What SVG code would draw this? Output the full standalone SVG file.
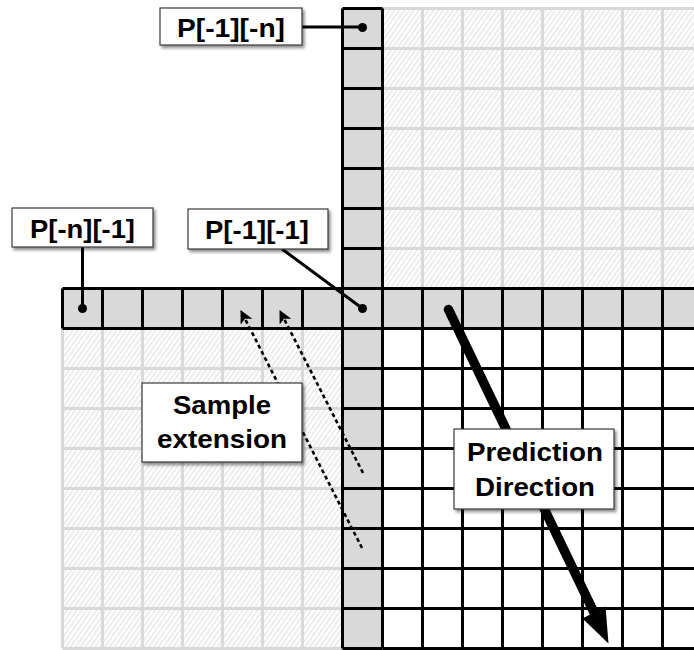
<svg xmlns="http://www.w3.org/2000/svg" width="694" height="650" viewBox="0 0 694 650">
<defs>
<pattern id="hatch" width="4" height="4" patternUnits="userSpaceOnUse" patternTransform="rotate(35)">
<rect width="4" height="4" fill="#ffffff"/>
<line x1="1" y1="0" x2="1" y2="4" stroke="#dcdcdc" stroke-width="1"/>
</pattern>
<filter id="shadow" x="-10%" y="-10%" width="130%" height="140%">
<feDropShadow dx="2" dy="2.5" stdDeviation="1.5" flood-color="#000" flood-opacity="0.45"/>
</filter>
<marker id="smallhead" viewBox="0 0 12 12" refX="11" refY="6" markerWidth="13" markerHeight="13" markerUnits="userSpaceOnUse" orient="auto">
<path d="M0,0 L12,6 L0,12 L3,6 Z" fill="#000"/>
</marker>
</defs>
<style>
.gl{stroke:#d9d9d9;stroke-width:3;fill:none}
.bl{stroke:#000;stroke-width:3;fill:none}
.cell{fill:#d9d9d9}
.box{fill:#fff;stroke:#3a3a3a;stroke-width:1.2;filter:url(#shadow)}
.lbl{font-family:"Liberation Sans",Arial,Helvetica,sans-serif;font-weight:bold;font-size:26px;fill:#000;text-anchor:middle}
.lead{stroke:#000;stroke-width:3;fill:none}
.dash{stroke:#000;stroke-width:2.6;stroke-dasharray:4 3;fill:none;marker-end:url(#smallhead)}
</style>
<rect width="694" height="650" fill="#fff"/>
<g id="grid">
<rect x="382.5" y="8.5" width="320" height="280" fill="url(#hatch)"/>
<rect x="62.5" y="328.5" width="280" height="320" fill="url(#hatch)"/>
<path class="gl" d="M422.5,8.5V288.5M462.5,8.5V288.5M502.5,8.5V288.5M542.5,8.5V288.5M582.5,8.5V288.5M622.5,8.5V288.5M662.5,8.5V288.5M382.5,8.5H694M382.5,48.5H694M382.5,88.5H694M382.5,128.5H694M382.5,168.5H694M382.5,208.5H694M382.5,248.5H694"/>
<path class="gl" d="M62.5,328.5V648.5M102.5,328.5V648.5M142.5,328.5V648.5M182.5,328.5V648.5M222.5,328.5V648.5M262.5,328.5V648.5M302.5,328.5V648.5M62.5,368.5H342.5M62.5,408.5H342.5M62.5,448.5H342.5M62.5,488.5H342.5M62.5,528.5H342.5M62.5,568.5H342.5M62.5,608.5H342.5M62.5,648.5H342.5"/>
<path class="bl" d="M422.5,328.5V648.5M462.5,328.5V648.5M502.5,328.5V648.5M542.5,328.5V648.5M582.5,328.5V648.5M622.5,328.5V648.5M662.5,328.5V648.5M382.5,368.5H694M382.5,408.5H694M382.5,448.5H694M382.5,488.5H694M382.5,528.5H694M382.5,568.5H694M382.5,608.5H694M382.5,648.5H694"/>
<rect class="cell" x="342.5" y="8.5" width="40" height="640"/>
<rect class="cell" x="62.5" y="288.5" width="640" height="40"/>
<path class="bl" d="M342.5,8.5V648.5M382.5,8.5V648.5M342.5,8.5H382.5M342.5,48.5H382.5M342.5,88.5H382.5M342.5,128.5H382.5M342.5,168.5H382.5M342.5,208.5H382.5M342.5,248.5H382.5M342.5,368.5H382.5M342.5,408.5H382.5M342.5,448.5H382.5M342.5,488.5H382.5M342.5,528.5H382.5M342.5,568.5H382.5M342.5,608.5H382.5M342.5,648.5H382.5"/>
<path class="bl" d="M62.5,288.5H694M62.5,328.5H694M62.5,288.5V328.5M102.5,288.5V328.5M142.5,288.5V328.5M182.5,288.5V328.5M222.5,288.5V328.5M262.5,288.5V328.5M302.5,288.5V328.5M422.5,288.5V328.5M462.5,288.5V328.5M502.5,288.5V328.5M542.5,288.5V328.5M582.5,288.5V328.5M622.5,288.5V328.5M662.5,288.5V328.5"/>
</g>
<g id="connectors">
<line class="dash" x1="362" y1="548" x2="241" y2="311"/>
<line class="dash" x1="363" y1="473" x2="280" y2="311"/>
<line x1="448.5" y1="309.5" x2="594" y2="612.5" stroke="#000" stroke-width="9.5" stroke-linecap="round"/>
<polygon points="582.5,618.5 605.5,606.5 608.5,643.5" fill="#000"/>
<line class="lead" x1="302" y1="27" x2="362.5" y2="27"/>
<circle cx="362.5" cy="27.5" r="4.5" fill="#000"/>
<line class="lead" x1="82.5" y1="247" x2="82.5" y2="308.5"/>
<circle cx="82.5" cy="308.5" r="4.5" fill="#000"/>
<line class="lead" x1="282" y1="249" x2="362.5" y2="308.5"/>
<circle cx="362.5" cy="308.5" r="4.5" fill="#000"/>
</g>
<g id="label-p-1-n">
<rect class="box" x="160" y="8" width="142" height="37"/>
<text class="lbl" x="231" y="36.5" textLength="108" lengthAdjust="spacingAndGlyphs">P[-1][-n]</text>
</g>
<g id="label-p-n-1">
<rect class="box" x="12" y="208" width="141" height="39"/>
<text class="lbl" x="82.5" y="237.5" textLength="105" lengthAdjust="spacingAndGlyphs">P[-n][-1]</text>
</g>
<g id="label-p-1-1">
<rect class="box" x="188" y="209" width="140" height="40"/>
<text class="lbl" x="257" y="239" textLength="104" lengthAdjust="spacingAndGlyphs">P[-1][-1]</text>
</g>
<g id="label-sample-extension">
<rect class="box" x="142" y="383" width="160" height="79"/>
<text class="lbl" x="222" y="414" textLength="98" lengthAdjust="spacingAndGlyphs">Sample</text>
<text class="lbl" x="222" y="448" textLength="130" lengthAdjust="spacingAndGlyphs">extension</text>
</g>
<g id="label-prediction-direction">
<rect class="box" x="454" y="429" width="160" height="80"/>
<text class="lbl" x="535" y="461" textLength="136" lengthAdjust="spacingAndGlyphs">Prediction</text>
<text class="lbl" x="535" y="496" textLength="120" lengthAdjust="spacingAndGlyphs">Direction</text>
</g>
</svg>
